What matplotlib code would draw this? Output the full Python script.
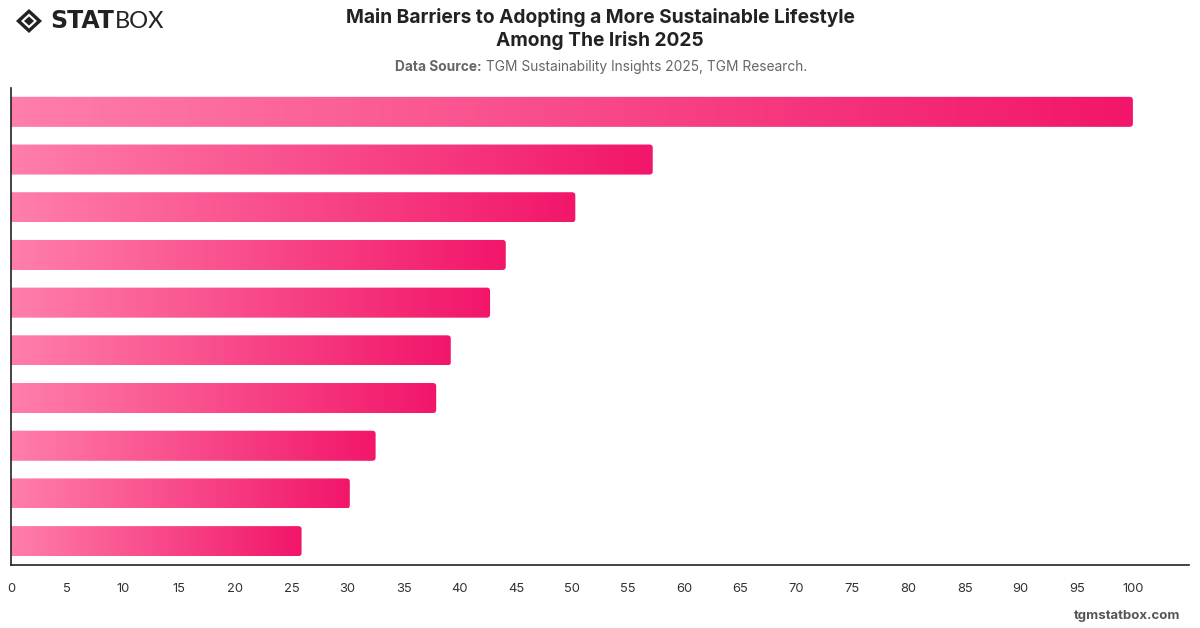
import numpy as np
import matplotlib
matplotlib.use("Agg")
import matplotlib.pyplot as plt
from matplotlib.patches import FancyBboxPatch, Polygon
from matplotlib.colors import LinearSegmentedColormap

plt.rcParams['font.family'] = ['Inter', 'DejaVu Sans']

# Data (category labels are not shown in the reference)
categories = [f"Barrier {i}" for i in range(1, 11)]
values = [100, 57.2, 50.3, 44.1, 42.7, 39.2, 37.9, 32.5, 30.2, 25.9]
xticks = list(range(0, 101, 5))

title = "Main Barriers to Adopting a More Sustainable Lifestyle\nAmong The Irish 2025"
source_bold = "Data Source:"
source_rest = " TGM Sustainability Insights 2025, TGM Research."
footer = "tgmstatbox.com"

fig = plt.figure(figsize=(12, 6.28), dpi=100)
ax = fig.add_axes([11/1200, 1 - 565/628, (1189-11)/1200, (565-88)/628])

cmap = LinearSegmentedColormap.from_list("pinkgrad", ["#ff7eab", "#f2166a"])
ypos = np.arange(len(values))
bars = ax.barh(ypos, values, height=0.63, color="none")
XMAX = 105.0
ax.set_xlim(0, XMAX)
ax.set_ylim(len(values) - 0.5, -0.5)

grad = np.linspace(0, 1, 256).reshape(1, -1)
for b in bars:
    x0, y0 = b.get_x(), b.get_y()
    w, h = b.get_width(), b.get_height()
    patch = FancyBboxPatch((x0 - 1, y0), w + 1, h,
                           boxstyle="round,pad=0,rounding_size=0.3",
                           mutation_aspect=0.22, facecolor="none",
                           edgecolor="none", transform=ax.transData)
    ax.add_patch(patch)
    im = ax.imshow(grad, cmap=cmap, aspect="auto",
                   extent=(x0, x0 + w, y0 + h, y0), zorder=2,
                   interpolation="bilinear")
    im.set_clip_path(patch)
ax.set_xlim(0, XMAX)
ax.set_ylim(len(values) - 0.5, -0.5)

ax.set_xticks(xticks)
ax.set_xticklabels([str(t) for t in xticks], fontsize=9.3, color="#333333")
ax.tick_params(axis="x", length=0, pad=13)
ax.set_yticks([])
for s in ["top", "right"]:
    ax.spines[s].set_visible(False)
for s in ["left", "bottom"]:
    ax.spines[s].set_color("#222222")
    ax.spines[s].set_linewidth(1.2)

# Title and subtitle
fig.text(0.5, 1 - 29/628, title, ha="center", va="center", fontsize=13.8,
         fontweight="bold", color="#222222", linespacing=1.3)
SUB_FS = 9.9
t1 = fig.text(0.5, 1 - 67/628, source_bold + source_rest, ha="center", va="center",
              fontsize=SUB_FS, color="#666666")
fig.canvas.draw()
r = fig.canvas.get_renderer()
bb = t1.get_window_extent(r)
t1.remove()
tb = fig.text(bb.x0 / 1200, 1 - 67/628, source_bold, ha="left", va="center",
              fontsize=SUB_FS, color="#666666", fontweight="bold")
bb2 = tb.get_window_extent(r)
fig.text(bb2.x1 / 1200, 1 - 67/628, source_rest, ha="left", va="center",
         fontsize=SUB_FS, color="#666666")

# Logo
cx, cy = 29/1200, 1 - 21/628
dx, dy = 13/1200, 12/628
outer = Polygon([(cx - dx, cy), (cx, cy + dy), (cx + dx, cy), (cx, cy - dy)],
                closed=True, transform=fig.transFigure, facecolor="#222222",
                edgecolor="none")
fig.patches.append(outer)
dx2, dy2 = 8/1200, 7.5/628
inner = Polygon([(cx - dx2, cy), (cx, cy + dy2), (cx + dx2, cy), (cx, cy - dy2)],
                closed=True, transform=fig.transFigure, facecolor="white",
                edgecolor="none")
fig.patches.append(inner)
dx3, dy3 = 5/1200, 4.5/628
core = Polygon([(cx - dx3, cy), (cx, cy + dy3), (cx + dx3, cy), (cx, cy - dy3)],
               closed=True, transform=fig.transFigure, facecolor="#222222",
               edgecolor="none")
fig.patches.append(core)
ts = fig.text(50/1200, cy, "STAT", ha="left", va="center", fontsize=17,
              fontweight="bold", color="#222222", family=["DejaVu Sans"])
fig.canvas.draw()
bbs = ts.get_window_extent(fig.canvas.get_renderer())
fig.text(bbs.x1 / 1200 + 1/1200, cy, "BOX", ha="left", va="center", fontsize=17,
         fontweight="normal", color="#222222", family=["Lato", "DejaVu Sans"])

# Footer
fig.text(1180/1200, 1 - 616/628, footer, ha="right", va="center", fontsize=9.5,
         fontweight="bold", color="#555555")

fig.savefig("out.png", dpi=100)
